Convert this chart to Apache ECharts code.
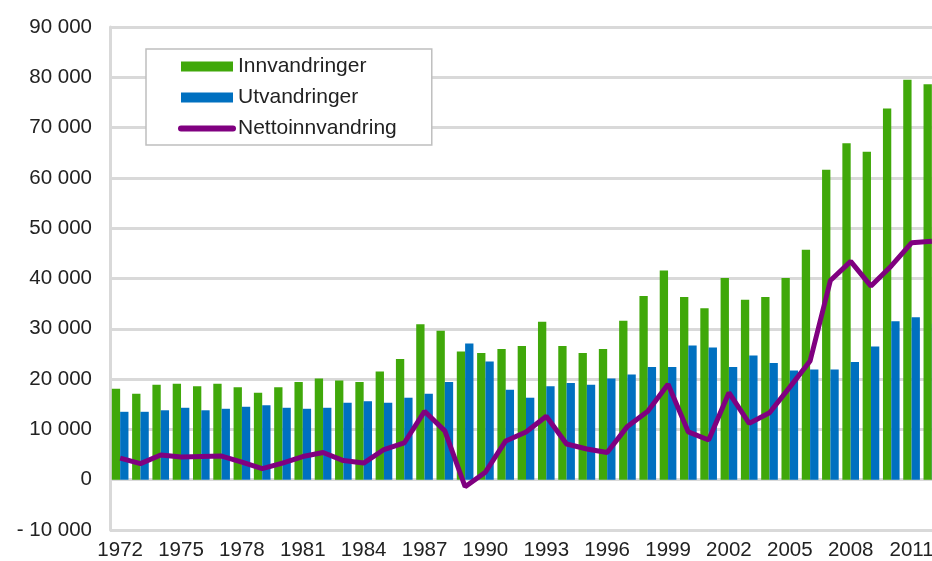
<!DOCTYPE html>
<html>
<head>
<meta charset="utf-8">
<script src="https://cdn.jsdelivr.net/npm/echarts@6/dist/echarts.min.js"></script>
<style>
html,body{margin:0;padding:0;background:#fff;overflow:hidden;width:932px;height:561px;}
#c{width:960px;height:561px;}
</style>
</head>
<body>
<div id="c"></div>
<script>
var years = [];
for (var y = 1972; y <= 2012; y++) years.push(String(y));

var innvandringer = [18100,17100,18900,19100,18600,19100,18400,17300,18400,19400,
  20100,19700,19400,21500,24000,30900,29600,25500,25200,26000,
  26600,31400,26600,25200,26000,31600,36500,41600,36300,34100,
  40100,35800,36300,40100,45700,61600,66900,65200,73800,79500,78600];

var utvandringer = [13500,13500,13800,14300,13800,14100,14500,14800,14300,14100,
  14300,15300,15600,15300,16300,17100,19400,27100,23500,17900,
  16300,18600,19200,18900,20100,20900,22400,22400,26700,26300,
  22400,24700,23200,21700,21900,21900,23400,26500,31500,32300,31000];

var nettoinnvandring = [4300,3200,4900,4500,4600,4700,3500,2200,3300,4600,
  5400,3800,3300,6000,7300,13600,9700,-1400,1500,7700,
  9500,12600,7100,6100,5400,10600,13600,19000,9500,7900,
  17300,11200,13300,18400,23600,39600,43400,38500,42500,47100,47400];

var yMin = -10000, yMax = 90000, yStep = 10000;

function fmt(v){
  var s = String(Math.abs(v)).replace(/\B(?=(\d{3})+(?!\d))/g, ' ');
  return v < 0 ? '- ' + s : s;
}

var chart = echarts.init(document.getElementById('c'), null, {renderer:'canvas'});
var font = 'Liberation Sans, Arial, sans-serif';
chart.setOption({
  animation:false,
  backgroundColor:'#ffffff',
  grid:{left:110, top:27, width:832, height:504, containLabel:false},
  legend:{
    orient:'vertical', left:146, top:49,
    padding:[7,35,6,32],
    itemWidth:52, itemHeight:10, itemGap:10,
    backgroundColor:'#ffffff', borderColor:'#bfbfbf', borderWidth:1.5,
    textStyle:{fontFamily:font, fontSize:21, color:'#222'},
    data:[
      {name:'Innvandringer', icon:'rect'},
      {name:'Utvandringer', icon:'rect'},
      {name:'Nettoinnvandring',
       lineStyle:{width:6, cap:'round', color:'#800080'},
       itemStyle:{color:'rgba(0,0,0,0)', borderWidth:0, opacity:0}}
    ]
  },
  xAxis:{
    type:'category', data:years,
    axisLine:{show:false}, axisTick:{show:false},
    axisLabel:{interval:2, fontFamily:font, fontSize:20.5, color:'#222', margin:10}
  },
  yAxis:{
    type:'value', min:yMin, max:yMax, interval:yStep,
    axisLine:{show:true, lineStyle:{color:'#d9d9d9', width:3}},
    axisTick:{show:false},
    splitLine:{lineStyle:{color:'#d9d9d9', width:3}},
    axisLabel:{fontFamily:font, fontSize:20.5, color:'#222', margin:18, formatter:fmt}
  },
  series:[
    {name:'Innvandringer', type:'bar', data:innvandringer, barGap:'0%', barCategoryGap:'18%',
     itemStyle:{color:'#40a80a'}},
    {name:'Utvandringer', type:'bar', data:utvandringer, barGap:'0%', barCategoryGap:'18%',
     itemStyle:{color:'#0070c0'}},
    {name:'Nettoinnvandring', type:'line', data:nettoinnvandring, symbol:'none', z:5,
     lineStyle:{color:'#800080', width:5}, itemStyle:{color:'#800080'}}
  ]
});
</script>
</body>
</html>
